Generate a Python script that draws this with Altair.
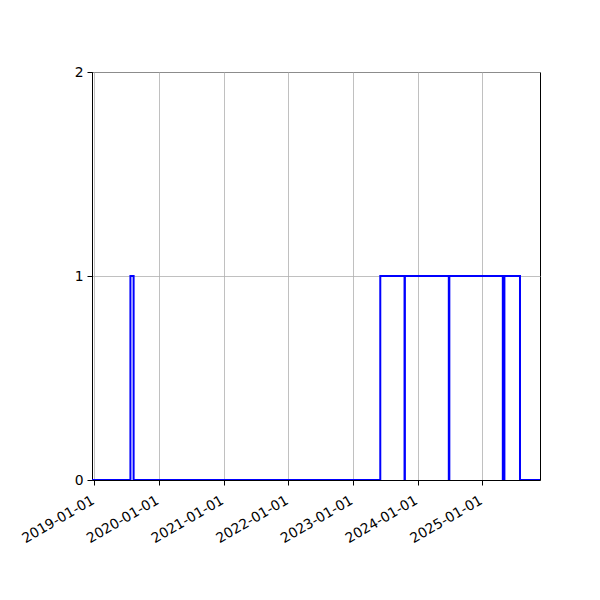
import altair as alt
import pandas as pd

# step data (value switches at each date)
dates = ["2018-12-19", "2019-07-24", "2019-08-11", "2023-06-04", "2023-10-19",
         "2023-10-21", "2024-06-25", "2024-06-28", "2025-04-26", "2025-05-05",
         "2025-08-01", "2025-11-22"]
values = [0, 1, 0, 1, 0, 1, 0, 1, 0, 1, 0, 0]
tick_years = [2019, 2020, 2021, 2022, 2023, 2024, 2025]
y_ticks = [0.0, 1.0, 2.0]

df = pd.DataFrame({"date": dates, "status": values})

x_domain = [alt.DateTime(year=2018, month=12, date=19, utc=True),
            alt.DateTime(year=2025, month=11, date=22, utc=True)]
x_values = [alt.DateTime(year=y, month=1, date=1, utc=True) for y in tick_years]

axis_style = dict(
    domainColor="black", domainWidth=1, tickColor="black", tickSize=5,
    labelColor="black", labelFont="DejaVu Sans", labelFontSize=13.9,
    gridColor="#b0b0b0", gridWidth=0.8, labelFlush=False, labelOverlap=False,
    title=None, grid=True,
)

line = alt.Chart(df).mark_line(
    interpolate="step-after", color="#0000ff", strokeWidth=2, clip=True
).encode(
    x=alt.X("date:T",
            scale=alt.Scale(type="utc", domain=x_domain),
            axis=alt.Axis(values=x_values,
                          labelExpr="utcFormat(datum.value, '%Y-%m-%d')",
                          labelAngle=-30, labelAlign="right", labelBaseline="top",
                          labelPadding=8, labelOffset=-5,
                          **axis_style)),
    y=alt.Y("status:Q",
            scale=alt.Scale(domain=[0, 2], nice=False, zero=False),
            axis=alt.Axis(values=y_ticks, labelExpr="format(datum.value, 'd')",
                          labelPadding=4, **axis_style)),
)

chart = line.properties(
    width=448, height=408,
    autosize=alt.AutoSizeParams(type="none"),
    padding={"left": 84, "top": 64, "right": 52, "bottom": 112},
).configure_view(
    stroke="black", strokeWidth=1
)

chart.save("out.html", embed_options={"renderer": "svg", "actions": False})
